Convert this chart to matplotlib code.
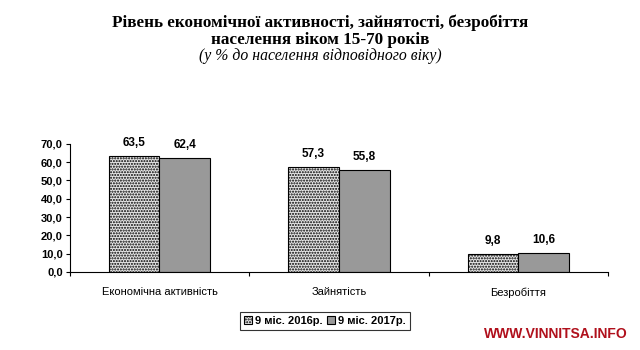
import matplotlib
matplotlib.use("Agg")
import matplotlib.pyplot as plt
import numpy as np

categories = ["Економічна активність", "Зайнятість", "Безробіття"]
series_names = ["9 міс. 2016р.", "9 міс. 2017р."]
values_2016 = [63.5, 57.3, 9.8]
values_2017 = [62.4, 55.8, 10.6]
y_ticks = [0, 10, 20, 30, 40, 50, 60, 70]

plt.rcParams["hatch.linewidth"] = 1.0
plt.rcParams["hatch.color"] = "#555555"

fig = plt.figure(figsize=(6.4, 3.5), dpi=100)
ax = fig.add_axes([0.109, 0.223, 0.841, 0.366])

x = np.arange(len(categories))
w = 0.283
b1 = ax.bar(x - w / 2, values_2016, w, facecolor="#e6e6e6", edgecolor="black",
            linewidth=0.8, hatch="......", label=series_names[0])
b2 = ax.bar(x + w / 2, values_2017, w, facecolor="#999999", edgecolor="black",
            linewidth=0.8, label=series_names[1])

lab_font = dict(family="Liberation Sans", fontsize=8, fontweight="bold")
for bars, vals in ((b1, values_2016), (b2, values_2017)):
    for r, v in zip(bars, vals):
        ax.annotate(f"{v:.1f}".replace(".", ","),
                    (r.get_x() + r.get_width() / 2, v),
                    xytext=(0, 5), textcoords="offset points",
                    ha="center", va="bottom", fontsize=8.5,
                    family="Liberation Sans", fontweight="bold")

ax.set_xlim(-0.5, 2.5)
ax.set_ylim(0, 70)
ax.set_yticks(y_ticks)
ax.set_yticklabels([f"{t:.1f}".replace(".", ",") for t in y_ticks], **lab_font)
ax.set_xticks(x)
ax.set_xticklabels(categories, family="Liberation Sans", fontsize=8)
ax.tick_params(axis="x", length=0, pad=11)
ax.set_xticks([-0.5, 0.5, 1.5, 2.5], minor=True)
ax.tick_params(axis="x", which="minor", length=3, width=0.8)
ax.tick_params(axis="y", length=3, width=0.8, pad=2)
for s in ("top", "right"):
    ax.spines[s].set_visible(False)
ax.spines["left"].set_linewidth(0.8)
ax.spines["bottom"].set_linewidth(0.8)

leg = fig.legend(loc="center", bbox_to_anchor=(0.508, 0.083), ncol=2,
                 frameon=True, fancybox=False, edgecolor="black",
                 prop=dict(family="Liberation Sans", size=8, weight="bold"),
                 handlelength=0.7, handleheight=0.7, handletextpad=0.3,
                 columnspacing=0.4, borderpad=0.35, borderaxespad=0)
leg.get_frame().set_linewidth(0.8)

fig.text(0.5, 0.935, "Рівень економічної активності, зайнятості, безробіття",
         ha="center", va="center", family="Liberation Serif", fontsize=12.3,
         fontweight="bold")
fig.text(0.5, 0.885, "населення віком 15-70 років",
         ha="center", va="center", family="Liberation Serif", fontsize=12.3,
         fontweight="bold")
fig.text(0.5, 0.840, "(у % до населення відповідного віку)",
         ha="center", va="center", family="Liberation Serif", fontsize=11.3,
         style="italic")

fig.text(0.869, 0.046, "WWW.VINNITSA.INFO", ha="center", va="center",
         family="Liberation Sans", fontsize=10,
         fontweight="bold", color="#b0101c")

fig.savefig("out.png", dpi=100, facecolor="white")
